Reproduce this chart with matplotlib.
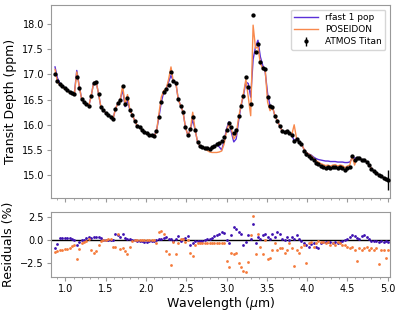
import numpy as np
import matplotlib
matplotlib.use('Agg')
import matplotlib.pyplot as plt
from matplotlib.ticker import MultipleLocator

# wavelength grid (micron)
wl = [0.87, 0.90, 0.93, 0.96, 0.99, 1.02, 1.05, 1.08, 1.11, 1.14,
      1.17, 1.20, 1.23, 1.26, 1.29, 1.32, 1.35, 1.38, 1.41, 1.44,
      1.47, 1.50, 1.53, 1.56, 1.59, 1.62, 1.65, 1.68, 1.71, 1.74,
      1.77, 1.80, 1.83, 1.86, 1.89, 1.92, 1.95, 1.98, 2.01, 2.04,
      2.07, 2.10, 2.13, 2.16, 2.19, 2.22, 2.25, 2.28, 2.31, 2.34,
      2.37, 2.40, 2.43, 2.46, 2.49, 2.52, 2.55, 2.58, 2.61, 2.64,
      2.67, 2.70, 2.73, 2.76, 2.79, 2.82, 2.85, 2.88, 2.91, 2.94,
      2.97, 3.00, 3.03, 3.06, 3.09, 3.12, 3.15, 3.18, 3.21, 3.24,
      3.27, 3.30, 3.33, 3.36, 3.39, 3.42, 3.45, 3.48, 3.51, 3.54,
      3.57, 3.60, 3.63, 3.66, 3.69, 3.72, 3.75, 3.78, 3.81, 3.84,
      3.87, 3.90, 3.93, 3.96, 3.99, 4.02, 4.05, 4.08, 4.11, 4.14,
      4.17, 4.20, 4.23, 4.26, 4.29, 4.32, 4.35, 4.38, 4.41, 4.44,
      4.47, 4.50, 4.53, 4.56, 4.59, 4.62, 4.65, 4.68, 4.71, 4.74,
      4.77, 4.80, 4.83, 4.86, 4.89, 4.92, 4.95, 4.98, 5.00]

# ATMOS Titan spectrum (ppm)
atmos = [17.01, 16.88, 16.81, 16.77, 16.74, 16.70, 16.66, 16.63, 16.62, 16.95,
         16.74, 16.52, 16.45, 16.41, 16.38, 16.58, 16.84, 16.86, 16.62, 16.35,
         16.29, 16.24, 16.19, 16.16, 16.12, 16.31, 16.43, 16.50, 16.78, 16.42,
         16.54, 16.29, 16.20, 16.08, 15.98, 15.96, 15.90, 15.85, 15.83, 15.80,
         15.79, 15.78, 15.88, 16.15, 16.45, 16.65, 16.71, 16.80, 17.05, 16.87,
         16.84, 16.51, 16.38, 16.25, 15.95, 15.79, 15.91, 16.15, 15.90, 15.66,
         15.58, 15.56, 15.54, 15.53, 15.52, 15.55, 15.58, 15.61, 15.64, 15.68,
         15.76, 15.90, 16.04, 15.95, 15.84, 15.90, 16.18, 16.38, 16.58, 16.95,
         16.75, 16.42, 18.18, 17.45, 17.60, 17.25, 17.12, 17.10, 16.55, 16.38,
         16.36, 16.18, 16.08, 15.98, 15.88, 15.86, 15.87, 15.84, 15.80, 15.68,
         15.72, 15.66, 15.62, 15.48, 15.41, 15.38, 15.35, 15.30, 15.25, 15.22,
         15.19, 15.17, 15.15, 15.16, 15.14, 15.16, 15.17, 15.14, 15.16, 15.15,
         15.11, 15.14, 15.16, 15.38, 15.31, 15.34, 15.35, 15.30, 15.31, 15.26,
         15.21, 15.13, 15.08, 15.05, 15.01, 14.98, 14.95, 14.93, 14.91]
atmos_err = [0.02] * 138 + [0.2]

# retrieved best fit spectra (ppm)
rfast = [17.15, 16.93, 16.83, 16.77, 16.74, 16.70, 16.66, 16.63, 16.62, 17.08,
         16.78, 16.52, 16.45, 16.41, 16.38, 16.58, 16.84, 16.86, 16.62, 16.35,
         16.29, 16.24, 16.19, 16.16, 16.12, 16.31, 16.43, 16.50, 16.70, 16.36,
         16.48, 16.29, 16.20, 16.08, 15.98, 15.96, 15.90, 15.85, 15.83, 15.80,
         15.79, 15.78, 15.88, 16.15, 16.45, 16.65, 16.71, 16.85, 16.98, 16.87,
         16.84, 16.51, 16.38, 16.25, 15.95, 15.79, 15.91, 16.10, 15.90, 15.66,
         15.58, 15.56, 15.54, 15.53, 15.52, 15.55, 15.58, 15.61, 15.56, 15.50,
         15.68, 15.92, 16.06, 15.85, 15.66, 15.72, 16.08, 16.38, 16.58, 16.85,
         16.82, 16.55, 17.30, 17.55, 17.68, 17.35, 17.18, 17.05, 16.62, 16.38,
         16.36, 16.18, 16.08, 15.98, 15.88, 15.86, 15.87, 15.84, 15.80, 15.68,
         15.72, 15.66, 15.62, 15.52, 15.45, 15.42, 15.40, 15.36, 15.33, 15.31,
         15.30, 15.29, 15.28, 15.28, 15.27, 15.27, 15.27, 15.26, 15.26, 15.26,
         15.25, 15.25, 15.26, 15.33, 15.34, 15.34, 15.35, 15.30, 15.31, 15.26,
         15.21, 15.13, 15.08, 15.05, 15.01, 14.98, 14.95, 14.93, 14.91]
poseidon = [17.10, 16.85, 16.79, 16.75, 16.72, 16.68, 16.64, 16.61, 16.60, 17.05,
            16.76, 16.52, 16.45, 16.41, 16.38, 16.58, 16.84, 16.86, 16.62, 16.35,
            16.29, 16.24, 16.19, 16.16, 16.12, 16.31, 16.43, 16.50, 16.78, 16.40,
            16.60, 16.29, 16.20, 16.08, 15.98, 15.96, 15.90, 15.85, 15.83, 15.80,
            15.79, 15.78, 15.86, 16.22, 16.55, 16.68, 16.71, 16.90, 17.15, 16.85,
            16.84, 16.51, 16.38, 16.25, 15.95, 15.79, 15.90, 16.25, 15.90, 15.66,
            15.58, 15.56, 15.52, 15.49, 15.46, 15.45, 15.45, 15.45, 15.46, 15.48,
            15.62, 15.88, 16.02, 15.92, 15.72, 15.80, 16.15, 16.38, 16.62, 16.90,
            16.55, 16.18, 17.98, 17.52, 17.55, 17.22, 17.12, 17.10, 16.45, 16.28,
            16.36, 16.18, 16.08, 15.98, 15.88, 15.86, 15.87, 15.84, 15.80, 16.00,
            15.72, 15.66, 15.62, 15.52, 15.45, 15.42, 15.39, 15.34, 15.29, 15.26,
            15.23, 15.21, 15.19, 15.20, 15.18, 15.20, 15.21, 15.18, 15.20, 15.19,
            15.15, 15.18, 15.20, 15.38, 15.20, 15.34, 15.35, 15.30, 15.31, 15.26,
            15.21, 15.13, 15.08, 15.05, 15.01, 14.98, 14.95, 14.93, 14.91]

# residuals (%)
rfast_res = [-0.87, -0.40, 0.18, 0.18, 0.18, 0.18, 0.18, 0.15, 0.00, -0.50,
             -0.20, 0.00, 0.05, 0.20, 0.28, 0.25, 0.30, 0.28, 0.30, 0.25,
             0.05, 0.00, 0.02, 0.00, 0.05, 0.65, 0.60, 0.28, 0.62, 0.20,
             0.15, 0.10, 0.05, 0.00, -0.05, -0.10, -0.15, -0.17, -0.17, -0.15,
             -0.12, -0.10, 0.05, 0.17, 0.17, 0.20, 0.35, 0.10, 0.15, -0.05,
             0.10, 0.45, -0.10, 0.10, 0.20, 0.40, -0.52, -0.35, -0.10, -0.10,
             -0.08, -0.05, 0.00, 0.10, 0.17, 0.25, 0.40, 0.55, 0.70, 0.85,
             0.80, 0.05, -0.35, 0.60, 1.40, 1.15, 0.85, 0.70, -0.50, -0.20,
             0.50, 0.17, 1.74, -0.35, 0.35, 0.15, 0.55, 0.70, 0.35, 0.10,
             0.70, 0.30, 0.85, 0.70, 0.17, 0.05, 0.35, 0.00, 0.28, 0.10,
             0.60, 0.15, -0.15, -0.35, -0.50, -0.70, -0.45, -0.35, -0.70, -0.85,
             -0.35, -0.20, -0.17, -0.25, -0.17, -0.30, -0.20, -0.35, -0.20, -0.15,
             0.05, 0.17, 0.35, 0.52, 0.40, 0.20, 0.15, 0.45, 0.60, 0.35,
             0.10, -0.05, -0.15, -0.15, -0.17, -0.15, -0.17, -0.15, -0.17]
poseidon_res = [-1.32, -1.15, -1.05, -1.04, -1.00, -0.95, -0.85, -0.60, -0.50, -2.10,
                -1.00, -0.35, -0.25, -0.10, 0.10, -1.10, -1.40, -1.20, -0.55, -0.10,
                0.05, 0.00, 0.10, 0.15, -0.70, -0.80, 0.70, -1.00, -0.87, -1.20,
                -1.56, -0.70, -0.15, 0.00, 0.05, 0.00, 0.02, 0.00, 0.00, 0.00,
                -0.02, 0.00, -0.35, 0.87, 0.94, 0.70, -1.20, -1.56, -2.70, -0.20,
                -1.56, -0.35, 0.17, 0.15, -0.20, 0.05, -1.40, -1.74, -0.50, -0.30,
                -0.28, -0.28, -0.28, -0.28, -0.28, -0.28, -0.28, -0.28, -0.28, -0.30,
                -0.30, -2.26, -2.95, -1.40, -1.56, -1.40, -2.43, -2.95, -3.30, -3.47,
                -2.40, 0.52, 2.64, -1.56, 0.70, -0.70, -1.56, 0.00, -2.08, -1.90,
                -1.04, -0.35, -1.04, -0.87, -0.90, -1.40, -1.04, -0.35, -0.87, -2.78,
                -1.04, -1.40, -0.70, -0.50, -2.43, -0.35, -0.20, -0.70, -0.35, -0.10,
                -0.17, -0.17, -0.35, -0.17, -0.50, -0.35, -0.55, -0.20, -0.35, -0.52,
                -0.55, -0.70, -0.90, -0.70, -1.04, -2.26, -0.87, -1.04, -0.87, -0.70,
                -1.04, -0.87, -1.04, -0.87, -2.60, -1.04, -1.04, -1.90, -1.04]

c_rf, c_po = '#5a30d8', '#f8894d'          # line colours
frame = '#999999'

fig = plt.figure(figsize=(4.0, 3.13), dpi=100)
ax1 = fig.add_axes([0.1275, 0.3665, 0.8475, 0.6175])
ax2 = fig.add_axes([0.1275, 0.115, 0.8475, 0.2065])

ax1.plot(wl, rfast, color=c_rf, lw=1.0, label='rfast 1 pop')
ax1.plot(wl, poseidon, color=c_po, lw=1.0, label='POSEIDON')
ax1.errorbar(wl, atmos, yerr=atmos_err, fmt='o', color='k', ms=2.1,
             elinewidth=1.0, capsize=0, label='ATMOS Titan', zorder=3)
ax1.set_xlim(0.82, 5.03)
ax1.set_ylim(14.54, 18.38)
ax1.set_ylabel('Transit Depth (ppm)', fontsize=9)
ax1.tick_params(labelbottom=False)
ax1.legend(loc='upper right', fontsize=6.5, handlelength=2.6,
           borderpad=0.4, labelspacing=0.35, edgecolor='#cccccc')

ax2.scatter(wl, rfast_res, s=4, color='#3d10b0', lw=0, zorder=3)
ax2.scatter(wl, poseidon_res, s=4, color='#f57a3a', lw=0, zorder=3)
ax2.axhline(0, color='k', lw=1.0, zorder=2)
ax2.set_xlim(0.82, 5.03)
ax2.set_ylim(-4.0, 3.0)
ax2.set_yticks([-2.5, 0.0, 2.5])
ax2.set_ylabel('Residuals (%)', fontsize=9)
ax2.set_xlabel(r'Wavelength ($\mu$m)', fontsize=9, labelpad=1)

for ax in (ax1, ax2):
    ax.xaxis.set_major_locator(MultipleLocator(0.5))
    ax.xaxis.set_minor_locator(MultipleLocator(0.1))
    ax.tick_params(which='both', labelsize=7, color=frame, pad=2)
    ax.tick_params(which='major', length=3)
    ax.tick_params(which='minor', length=1.5)
    for s in ax.spines.values():
        s.set_color(frame)

fig.savefig('out.png', dpi=100)
